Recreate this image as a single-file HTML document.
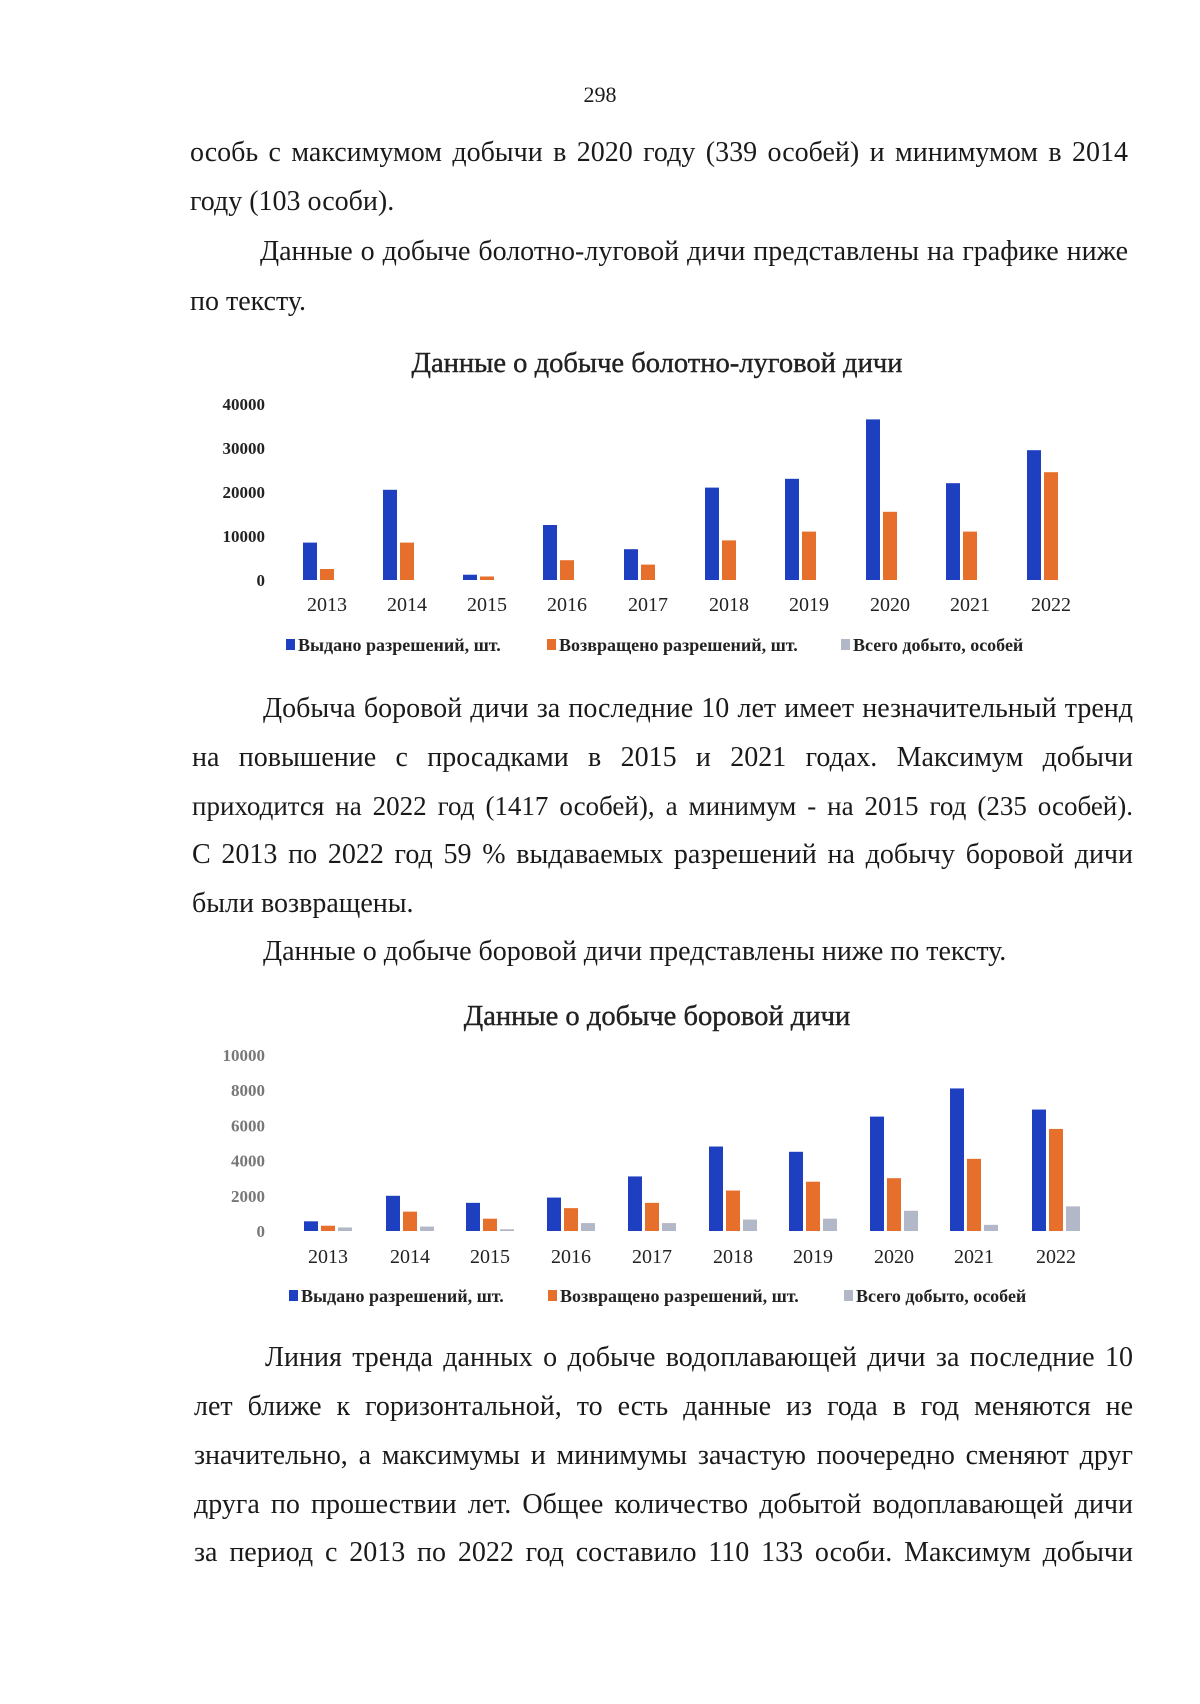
<!DOCTYPE html>
<html><head><meta charset="utf-8"><style>
body{margin:0;background:#fff;}
#p{position:relative;width:1200px;height:1704px;overflow:hidden;font-family:"Liberation Serif",serif;color:#1a1a1a;}
.l{position:absolute;font-size:28px;line-height:30px;height:30px;white-space:nowrap;}
.j{text-align:justify;text-align-last:justify;white-space:normal;}
svg{position:absolute;left:0;top:0;}
</style></head><body><div id="p">
<div class="l" style="left:0;width:1200px;text-align:center;top:80px;font-size:22px">298</div>
<div class="l j" style="left:190px;width:938px;top:138px">особь с максимумом добычи в 2020 году (339 особей) и минимумом в 2014</div>
<div class="l" style="left:190px;top:187px">году (103 особи).</div>
<div class="l j" style="left:260px;width:868px;top:237px">Данные о добыче болотно-луговой дичи представлены на графике ниже</div>
<div class="l" style="left:190px;top:287px">по тексту.</div>

<div class="l j" style="left:263px;width:870px;top:694px">Добыча боровой дичи за последние 10 лет имеет незначительный тренд</div>
<div class="l j" style="left:192px;width:941px;top:743px">на повышение с просадками в 2015 и 2021 годах. Максимум добычи</div>
<div class="l j" style="left:192px;width:941px;top:791px;font-size:27px">приходится на 2022 год (1417 особей), а минимум - на 2015 год (235 особей).</div>
<div class="l j" style="left:192px;width:941px;top:840px">С 2013 по 2022 год 59 % выдаваемых разрешений на добычу боровой дичи</div>
<div class="l" style="left:192px;top:889px">были возвращены.</div>
<div class="l" style="left:263px;top:937px">Данные о добыче боровой дичи представлены ниже по тексту.</div>

<div class="l j" style="left:265px;width:868px;top:1343px">Линия тренда данных о добыче водоплавающей дичи за последние 10</div>
<div class="l j" style="left:194px;width:939px;top:1392px">лет ближе к горизонтальной, то есть данные из года в год меняются не</div>
<div class="l j" style="left:194px;width:939px;top:1441px">значительно, а максимумы и минимумы зачастую поочередно сменяют друг</div>
<div class="l j" style="left:194px;width:939px;top:1490px">друга по прошествии лет. Общее количество добытой водоплавающей дичи</div>
<div class="l j" style="left:194px;width:939px;top:1538px">за период с 2013 по 2022 год составило 110 133 особи. Максимум добычи</div>

<svg id="s" width="1200" height="1704" font-family="Liberation Serif, serif"></svg>
</div>
<script>
var s=document.getElementById('s'),h='';
var C=['#1e3fbf','#e66f2c','#b3b8c8'];
function chart(o){
 h+='<text x="657" y="'+(o.ty+9)+'" text-anchor="middle" font-size="28" fill="#222" stroke="#222" stroke-width="0.4" transform="translate(657 0) scale(1.02 1) translate(-657 0)">'+o.title+'</text>';
 for(var i=0;i<o.ticks.length;i++){var y=o.y0-(o.ticks[i]/o.max)*(o.y0-o.ytop);
  h+='<text x="265" y="'+(y+6)+'" text-anchor="end" font-size="17" font-weight="bold" fill="'+o.tc+'">'+o.ticks[i]+'</text>';}
 for(var k=0;k<10;k++){var cx=o.cx[k];
  for(var b=0;b<3;b++){var v=o.d[k][b];if(!v)continue;var hh=v/o.max*(o.y0-o.ytop);
   h+='<rect x="'+(cx-24+b*17)+'" y="'+(o.y0-hh)+'" width="14" height="'+hh+'" fill="'+C[b]+'"/>';}
  h+='<text x="'+cx+'" y="'+(o.yl+7)+'" text-anchor="middle" font-size="20" fill="#222">'+(2013+k)+'</text>';}
 var L=['Выдано разрешений, шт.','Возвращено разрешений, шт.','Всего добыто, особей'];
 for(var b=0;b<3;b++){var x=o.lx[b];
  h+='<rect x="'+x+'" y="'+(o.ly-6)+'" width="9" height="11" fill="'+C[b]+'"/>';
  h+='<text x="'+(x+12)+'" y="'+(o.ly+6)+'" font-size="18" font-weight="bold" fill="#222">'+L[b]+'</text>';}
}
chart({title:'Данные о добыче болотно-луговой дичи',ty:363,ticks:[0,10000,20000,30000,40000],max:40000,y0:580,ytop:404,tc:'#222',
 cx:[327,407,487,567,648,729,809,890,970,1051],yl:604,
 d:[[8500,2500,0],[20500,8500,0],[1200,800,0],[12500,4500,0],[7000,3500,0],[21000,9000,0],[23000,11000,0],[36500,15500,0],[22000,11000,0],[29500,24500,0]],
 lx:[286,547,841],ly:645});
chart({title:'Данные о добыче боровой дичи',ty:1016,ticks:[0,2000,4000,6000,8000,10000],max:10000,y0:1231,ytop:1055,tc:'#777',
 cx:[328,410,490,571,652,733,813,894,974,1056],yl:1256,
 d:[[550,300,200],[2000,1100,250],[1600,700,100],[1900,1300,450],[3100,1600,450],[4800,2300,650],[4500,2800,700],[6500,3000,1150],[8100,4100,350],[6900,5800,1400]],
 lx:[289,548,844],ly:1296});
s.innerHTML=h;
</script>
</body></html>
